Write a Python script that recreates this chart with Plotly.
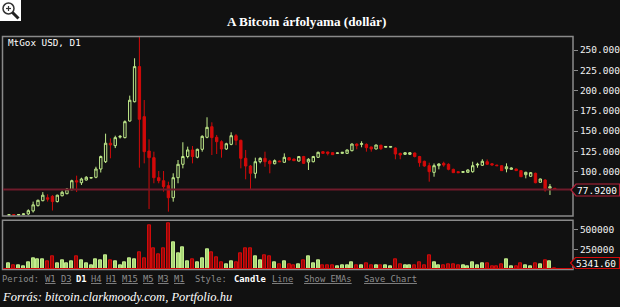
import plotly.graph_objects as go

W, H = 620, 307

# ---------------- data ----------------
opens = [46.2, 47.0, 46.4, 47.0, 47.8, 51.5, 58.0, 64.1, 67.8, 69.5,
         63.0, 70.2, 72.8, 77.7, 88.8, 86.3, 89.6, 92.0, 93.0, 103.2,
         112.2, 135.0, 132.0, 142.5, 141.9, 162.4, 186.2, 229.5, 167.8, 125.4,
         117.2, 92.5, 88.8, 82.7, 67.8, 92.5, 109.0, 118.6, 126.7, 117.7,
         127.5, 142.3, 155.4, 142.3, 136.9, 127.9, 133.6, 144.3, 138.6, 116.4,
         106.9, 97.9, 112.2, 116.4, 113.0, 109.7, 113.0, 111.5, 117.2, 115.5,
         113.0, 118.6, 111.8, 112.2, 117.6, 124.6, 124.2, 123.4, 122.5, 122.5,
         122.5, 125.8, 134.0, 133.6, 133.6, 130.4, 127.9, 132.5, 130.0, 130.0,
         129.1, 122.5, 121.3, 121.3, 123.0, 118.6, 112.7, 107.3, 99.1, 107.3,
         110.2, 109.0, 102.8, 99.9, 99.0, 99.1, 99.9, 108.1, 107.8, 112.2,
         109.7, 108.0, 107.3, 103.5, 102.8, 103.2, 101.2, 96.2, 94.2, 97.9,
         86.8, 89.6, 79.4, 79.4]
highs = [47.0, 47.4, 47.2, 48.2, 53.5, 63.0, 65.5, 74.7, 72.0, 71.0,
         71.5, 76.5, 79.5, 90.0, 95.0, 92.5, 94.4, 93.0, 106.0, 119.8,
         146.8, 141.0, 144.3, 145.0, 163.2, 193.7, 239.8, 266.0, 188.3, 139.8,
         124.6, 100.7, 100.7, 87.6, 97.9, 114.3, 136.2, 130.8, 131.6, 128.3,
         144.8, 167.0, 160.8, 145.2, 138.6, 135.6, 148.5, 146.3, 139.4, 126.7,
         108.1, 117.2, 117.6, 124.6, 114.5, 115.0, 113.5, 122.5, 118.0, 116.0,
         119.0, 119.4, 116.5, 119.4, 124.6, 125.0, 124.6, 123.8, 123.4, 124.2,
         127.1, 134.8, 134.8, 137.4, 134.8, 130.8, 133.2, 133.2, 131.5, 131.5,
         129.9, 123.3, 123.8, 123.8, 123.4, 119.4, 113.5, 111.0, 110.0, 110.2,
         112.2, 110.2, 103.6, 100.3, 100.3, 102.8, 112.2, 111.0, 115.2, 115.0,
         110.2, 108.5, 107.7, 110.2, 105.2, 103.6, 101.6, 99.9, 99.5, 98.7,
         91.3, 90.5, 84.7, 79.8]
lows = [45.8, 46.0, 46.0, 46.6, 46.5, 49.5, 57.0, 63.4, 63.0, 52.0,
        62.0, 69.5, 72.0, 77.0, 74.8, 83.5, 89.0, 91.5, 91.8, 98.9,
        110.6, 116.4, 129.0, 140.8, 141.0, 161.6, 185.4, 104.8, 110.2, 53.9,
        85.6, 85.6, 75.3, 50.6, 62.9, 85.6, 104.0, 116.4, 110.2, 116.4,
        124.6, 141.1, 120.5, 121.7, 117.2, 126.7, 132.5, 132.5, 104.0, 90.5,
        78.5, 91.7, 110.2, 106.0, 97.9, 109.0, 111.8, 110.8, 113.8, 113.0,
        112.5, 109.4, 102.0, 111.4, 116.9, 122.1, 120.0, 120.5, 122.1, 122.1,
        122.1, 125.0, 127.5, 130.0, 124.6, 124.6, 127.5, 126.7, 129.5, 129.5,
        115.2, 115.2, 120.5, 120.5, 117.5, 106.0, 106.0, 87.6, 93.7, 102.8,
        106.0, 101.6, 98.3, 98.3, 98.7, 98.7, 98.7, 104.8, 107.0, 108.5,
        107.7, 106.9, 100.8, 99.1, 102.4, 100.8, 93.3, 91.7, 93.7, 85.6,
        86.3, 75.3, 71.1, 77.5]
closes = [46.8, 46.4, 47.0, 47.8, 51.8, 59.0, 64.6, 70.9, 66.0, 63.0,
          70.9, 74.5, 78.5, 88.8, 87.2, 90.9, 93.0, 92.6, 103.2, 118.6,
          135.0, 132.9, 141.9, 143.5, 161.6, 188.0, 229.5, 164.5, 124.6, 117.2,
          92.5, 88.8, 81.4, 67.8, 92.5, 109.0, 118.6, 126.7, 118.6, 127.5,
          143.5, 154.6, 141.9, 136.9, 127.9, 134.4, 144.3, 138.6, 116.4, 106.9,
          97.9, 112.2, 116.4, 112.2, 109.7, 113.5, 112.2, 117.6, 114.3, 113.5,
          118.6, 110.2, 115.2, 118.6, 123.8, 122.5, 122.5, 120.9, 123.0, 123.8,
          126.7, 134.0, 132.0, 134.4, 129.5, 127.9, 132.8, 128.3, 131.0, 131.0,
          121.7, 120.5, 123.3, 123.3, 118.6, 111.0, 106.9, 99.9, 107.3, 109.4,
          108.1, 102.8, 98.7, 98.7, 100.0, 102.0, 107.3, 109.0, 112.7, 109.0,
          108.1, 107.3, 101.2, 106.0, 104.4, 101.2, 93.7, 99.1, 98.7, 86.3,
          90.9, 77.3, 81.4, 77.92]
volumes = [71000, 46000, 46000, 33000, 87000, 133000, 117000, 117000, 96000, 162000,
           67000, 108000, 75000, 96000, 154000, 108000, 67000, 46000, 117000, 108000,
           175000, 108000, 100000, 50000, 87000, 133000, 121000, 208000, 133000, 558000,
           258000, 183000, 258000, 575000, 337000, 200000, 275000, 100000, 125000, 87000,
           137000, 250000, 208000, 146000, 83000, 58000, 100000, 87000, 200000, 258000,
           267000, 158000, 112000, 167000, 158000, 87000, 58000, 100000, 58000, 46000,
           62000, 112000, 162000, 67000, 112000, 46000, 46000, 46000, 37000, 50000,
           50000, 79000, 46000, 50000, 67000, 46000, 50000, 46000, 50000, 37000,
           125000, 58000, 50000, 50000, 46000, 87000, 46000, 167000, 87000, 50000,
           46000, 58000, 58000, 46000, 50000, 33000, 87000, 50000, 71000, 67000,
           33000, 33000, 58000, 121000, 37000, 33000, 75000, 50000, 37000, 75000,
           62000, 112000, 92000, 5341.60]
last_price = 77.92
last_volume = 5341.60
price_ticks = [100, 125, 150, 175, 200, 225, 250]
volume_ticks = [250000, 500000]

# ---------------- styling ----------------
BG = "#111111"
GREEN = "#c2ec8c"
GREEN_FILL = "#a9d877"
RED = "#d20a0a"
RED_DARK = "#950808"
BORDER = "#8a8a8a"
MONO = "DejaVu Sans Mono"

def px(x):
    return x / W

def py(y):
    return 1 - y / H

idx = list(range(len(opens)))
xr = [-1.24, 116.77]

up = [c >= o for o, c in zip(opens, closes)]
vol_fill = [GREEN_FILL if u else RED_DARK for u in up]
vol_line = [GREEN if u else RED for u in up]

fig = go.Figure()
fig.add_trace(go.Candlestick(
    x=idx, open=opens, high=highs, low=lows, close=closes,
    increasing=dict(line=dict(color=GREEN, width=1), fillcolor=BG),
    decreasing=dict(line=dict(color=RED, width=1), fillcolor=RED),
    whiskerwidth=0, xaxis="x", yaxis="y", showlegend=False, hoverinfo="skip",
))
fig.add_trace(go.Bar(
    x=idx, y=volumes, width=0.62,
    marker=dict(color=vol_fill, line=dict(color=vol_line, width=1)),
    xaxis="x2", yaxis="y2", showlegend=False, hoverinfo="skip",
))

tickfont = dict(family=MONO, size=9.5, color="#f2f2f2")
fig.update_layout(
    width=W, height=H, margin=dict(l=0, r=0, t=0, b=0),
    paper_bgcolor=BG, plot_bgcolor=BG,
    bargap=0,
    xaxis=dict(domain=[px(3), px(573)], range=xr, visible=False,
               rangeslider=dict(visible=False), anchor="y", fixedrange=True),
    yaxis=dict(domain=[py(216), py(36.5)], range=[45.24, 266.65], side="right",
               anchor="x", showgrid=False, zeroline=False,
               tickvals=price_ticks, ticktext=[f"{v:.3f}" for v in price_ticks],
               ticks="outside", ticklen=4, tickcolor=BORDER, tickwidth=1,
               tickfont=tickfont, showline=False),
    xaxis2=dict(domain=[px(3), px(573)], range=xr, visible=False, anchor="y2",
                fixedrange=True),
    yaxis2=dict(domain=[py(269.5), py(220.3)], range=[-7614, 616734], side="right",
                anchor="x2", showgrid=False, zeroline=False,
                tickvals=volume_ticks, ticktext=[str(v) for v in volume_ticks],
                ticks="outside", ticklen=4, tickcolor=BORDER, tickwidth=1,
                tickfont=tickfont, showline=False),
)

shapes = []
# panel borders
for (y0, y1) in [(36.5, 216), (220.3, 269.5)]:
    shapes.append(dict(type="rect", xref="paper", yref="paper",
                       x0=px(2.5), x1=px(573), y0=py(y1), y1=py(y0),
                       line=dict(color=BORDER, width=1.5), fillcolor="rgba(0,0,0,0)",
                       layer="above"))
# last price line
shapes.append(dict(type="line", xref="paper", yref="y", x0=px(3), x1=px(573),
                   y0=last_price, y1=last_price, line=dict(color="#6f1b2b", width=2)))
# last volume line
shapes.append(dict(type="line", xref="paper", yref="y2", x0=px(3), x1=px(573),
                   y0=last_volume, y1=last_volume, line=dict(color=RED, width=1.2)))

def tag_path(x_tip, x1, yc, h):
    xs = x_tip + 5
    return (f"M {px(x_tip)},{py(yc)} L {px(xs)},{py(yc - h/2)} L {px(x1)},{py(yc - h/2)} "
            f"L {px(x1)},{py(yc + h/2)} L {px(xs)},{py(yc + h/2)} Z")

shapes.append(dict(type="path", xref="paper", yref="paper",
                   path=tag_path(571, 619.5, 190, 12),
                   line=dict(color="#b3223a", width=1.2), fillcolor=BG))
shapes.append(dict(type="path", xref="paper", yref="paper",
                   path=tag_path(570.5, 619.5, 263, 11),
                   line=dict(color=RED, width=1.2), fillcolor=BG))

# magnifier icon
shapes.append(dict(type="rect", xref="paper", yref="paper", x0=px(0), x1=px(21),
                   y0=py(21), y1=py(0), line=dict(width=0), fillcolor="#ffffff"))
shapes.append(dict(type="circle", xref="paper", yref="paper", x0=px(3), x1=px(14),
                   y0=py(14), y1=py(3), line=dict(color="#333333", width=1.5),
                   fillcolor="#ffffff"))
shapes.append(dict(type="line", xref="paper", yref="paper", x0=px(12.5), x1=px(18.5),
                   y0=py(12.5), y1=py(18.5), line=dict(color="#222222", width=3)))
shapes.append(dict(type="line", xref="paper", yref="paper", x0=px(6), x1=px(11),
                   y0=py(8.5), y1=py(8.5), line=dict(color="#333333", width=1.2)))
shapes.append(dict(type="line", xref="paper", yref="paper", x0=px(8.5), x1=px(8.5),
                   y0=py(6), y1=py(11), line=dict(color="#333333", width=1.2)))

fig.update_layout(shapes=shapes)

ann = []
def text(x, y, s, size, color="#ffffff", family=MONO, anchor="left"):
    ann.append(dict(xref="paper", yref="paper", x=px(x), y=py(y), text=s,
                    showarrow=False, xanchor=anchor, yanchor="middle",
                    font=dict(family=family, size=size, color=color)))

text(306, 21, "<b>A Bitcoin árfolyama (dollár)</b>", 13.2, family="Liberation Serif",
     anchor="center")
text(6, 42.5, "MtGox USD, D1", 9.3)
text(597, 190, "77.9200", 9.5, anchor="center")
text(596, 263, "5341.60", 9.5, anchor="center")

GREY = "#8c8c8c"
bar_items = [
    (0, "Period:", False, False), (43, "W1", True, False), (58.7, "D3", True, False),
    (74, "D1", False, True), (89, "H4", True, False), (104, "H1", True, False),
    (120, "M15", True, False), (141, "M5", True, False), (156, "M3", True, False),
    (172, "M1", True, False), (193, "Style:", False, False),
    (232, "Candle", False, True), (270, "Line", True, False),
    (301.7, "Show EMAs", True, False), (362, "Save Chart", True, False),
]
for x, s, link, strong in bar_items:
    if strong:
        text(x, 278.5, f"<b>{s}</b>", 8.8, color="#ffffff")
    elif link:
        text(x, 278.5, f"<u>{s}</u>", 8.8, color=GREY)
    else:
        text(x, 278.5, s, 8.8, color=GREY)

text(0, 296.5, "<i>Forrás: bitcoin.clarkmoody.com, Portfolio.hu</i>", 12.5,
     family="Liberation Serif")

fig.update_layout(annotations=ann)
fig.write_html("out.html")
